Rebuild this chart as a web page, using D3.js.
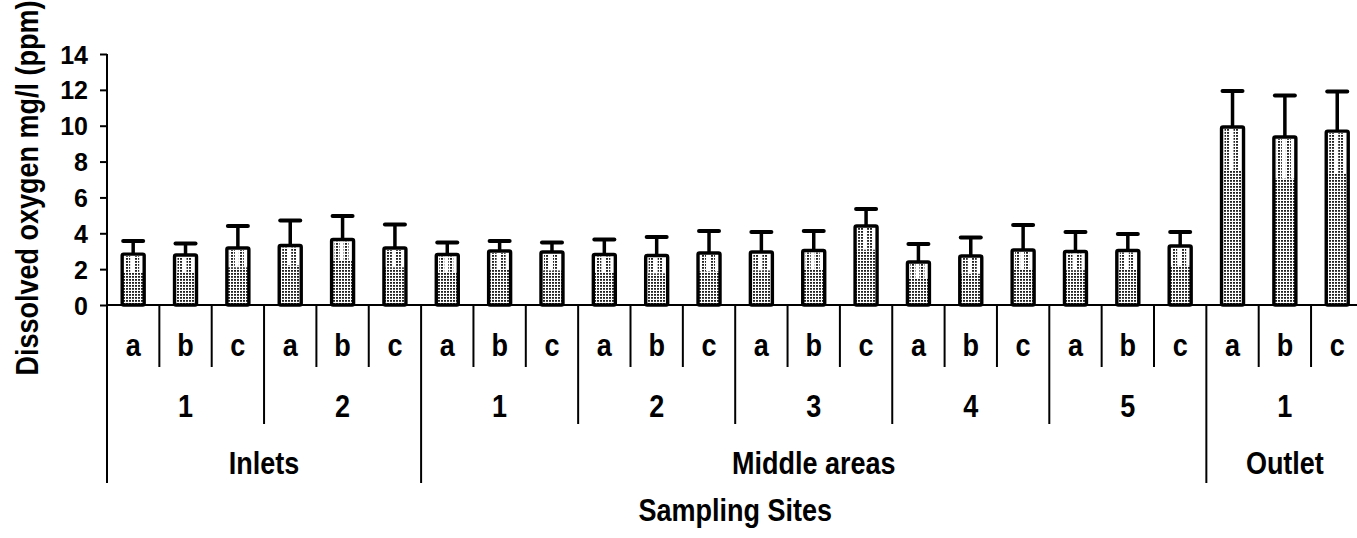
<!DOCTYPE html>
<html>
<head>
<meta charset="utf-8">
<script src="https://cdn.jsdelivr.net/npm/d3@7"></script>
<style>
  html, body { margin: 0; padding: 0; background: #fff; }
  svg { display: block; }
  text { font-family: "Liberation Sans", Arial, sans-serif; font-weight: bold; fill: #000; }
</style>
</head>
<body>
<svg id="chart" width="1357" height="538"></svg>
<script>
// Dissolved oxygen (mg/l) per sampling point, mean and upper error
const subLabels = ["a", "b", "c"];
const siteLabels = ["1", "2", "1", "2", "3", "4", "5", "1"];
const siteGroups = ["Inlets", "Inlets", "Middle areas", "Middle areas", "Middle areas", "Middle areas", "Middle areas", "Outlet"];
const groupLabels = ["Inlets", "Middle areas", "Outlet"];
const means = [
  2.84, 2.79, 3.18, 3.32, 3.65, 3.18,
  2.82, 3.01, 2.96, 2.82, 2.76, 2.90, 2.96, 3.04, 4.41,
  2.40, 2.73, 3.07, 2.98, 3.04, 3.29,
  9.93, 9.37, 9.70
];
const errors = [
  0.73, 0.64, 1.23, 1.39, 1.31, 1.31,
  0.67, 0.56, 0.53, 0.83, 1.03, 1.23, 1.11, 1.09, 0.94,
  1.00, 1.03, 1.39, 1.09, 0.92, 0.78,
  2.01, 2.31, 2.21
];
const yTicks = [0, 2, 4, 6, 8, 10, 12, 14];
const yTitle = "Dissolved oxygen mg/l (ppm)";
const xTitle = "Sampling Sites";

const svg = d3.select("#chart");
const x0 = 107, x1 = 1363.4, yBase = 305, yTop = 54;
const stretch = 1.16; // labels are set in a slightly tall bold face

const idx = d3.range(means.length);
const x = d3.scaleBand().domain(idx).range([x0, x1]).padding(0);
const y = d3.scaleLinear().domain([0, 14]).range([yBase, yTop]);
const step = x.step();
const barW = 22;

// stipple fill used for the bars
const defs = svg.append("defs");
const pat = defs.append("pattern").attr("id", "stipple")
  .attr("patternUnits", "userSpaceOnUse").attr("width", 3).attr("height", 3);
pat.append("rect").attr("width", 3).attr("height", 3).attr("fill", "#fff");
pat.append("rect").attr("width", 2).attr("height", 1.8).attr("fill", "#222");

// y axis
const yAxis = d3.axisLeft(y).tickValues(yTicks).tickSize(7).tickPadding(12);
const gy = svg.append("g").attr("transform", `translate(${x0},0)`).call(yAxis);
gy.select(".domain").remove();
gy.selectAll(".tick line").attr("stroke", "#000").attr("stroke-width", 2);
gy.selectAll(".tick text").style("font-size", "25px").style("font-family", "'Liberation Sans', Arial, sans-serif")
  .style("font-weight", "bold").attr("fill", "#000").attr("dy", "0.36em");

// axis lines and category separators
const lines = svg.append("g").attr("stroke", "#000").attr("stroke-width", 2);
lines.append("line").attr("x1", x0).attr("x2", x0).attr("y1", yTop).attr("y2", 483);
lines.append("line").attr("x1", x0).attr("x2", x1).attr("y1", yBase).attr("y2", yBase);

const levelBottom = [367, 424, 483];
d3.range(1, means.length + 1).forEach(i => {
  const xp = i < means.length ? x(i) : x1;
  const site = Math.floor(i / 3);
  let level = 0;
  if (i % 3 === 0) {
    level = 1;
    if (i === means.length || siteGroups[site] !== siteGroups[site - 1]) level = 2;
  }
  lines.append("line").attr("x1", xp).attr("x2", xp).attr("y1", yBase).attr("y2", levelBottom[level]);
});

// error bars (upward only)
const eb = svg.append("g").attr("stroke", "#000");
idx.forEach(i => {
  const cx = x(i) + step / 2;
  eb.append("line").attr("x1", cx).attr("x2", cx)
    .attr("y1", y(means[i])).attr("y2", y(means[i] + errors[i])).attr("stroke-width", 3.5);
  eb.append("line").attr("x1", cx - 10).attr("x2", cx + 10)
    .attr("y1", y(means[i] + errors[i])).attr("y2", y(means[i] + errors[i]))
    .attr("stroke-width", 4).attr("stroke-linecap", "round");
});

// bars: stippled body with a lighter two-column band near the top
const bars = svg.append("g");
idx.forEach(i => {
  const bx = x(i) + (step - barW) / 2;
  const top = y(means[i]);
  const h = yBase - top;
  const band = Math.min(h, 0.2 * h + 8);
  const g = bars.append("g");
  g.append("rect").attr("x", bx).attr("y", top).attr("width", barW).attr("height", h)
    .attr("fill", "url(#stipple)");
  g.append("rect").attr("x", bx).attr("y", top).attr("width", barW).attr("height", band)
    .attr("fill", "#fff");
  [3, 12].forEach(off => {
    g.append("rect").attr("x", bx + off).attr("y", top + 2).attr("width", 5).attr("height", band - 2)
      .attr("fill", "url(#stipple)");
  });
  g.append("rect").attr("x", bx).attr("y", top).attr("width", barW).attr("height", h)
    .attr("fill", "none").attr("stroke", "#000").attr("stroke-width", 3.4).attr("rx", 1.5);
});

// tall label helper
function label(parent, tx, ty, str, rotate) {
  const t = rotate ? `translate(${tx},${ty}) rotate(-90) scale(1,${stretch})` : `translate(${tx},${ty}) scale(1,${stretch})`;
  return parent.append("text").attr("text-anchor", "middle").style("font-size", "27px")
    .attr("transform", t).text(str);
}

// category labels
const lab = svg.append("g");
idx.forEach(i => label(lab, x(i) + step / 2, 356, subLabels[i % 3]));
siteLabels.forEach((s, k) => label(lab, x(k * 3) + step * 1.5, 417, s));
groupLabels.forEach(gname => {
  const members = idx.filter(i => siteGroups[Math.floor(i / 3)] === gname);
  const cx = (x(members[0]) + x(members[members.length - 1]) + step) / 2;
  label(lab, cx, 474, gname);
});

// axis titles
label(svg, (x0 + x1) / 2, 521, xTitle);
label(svg, 38, 188, yTitle, true);
</script>
</body>
</html>
